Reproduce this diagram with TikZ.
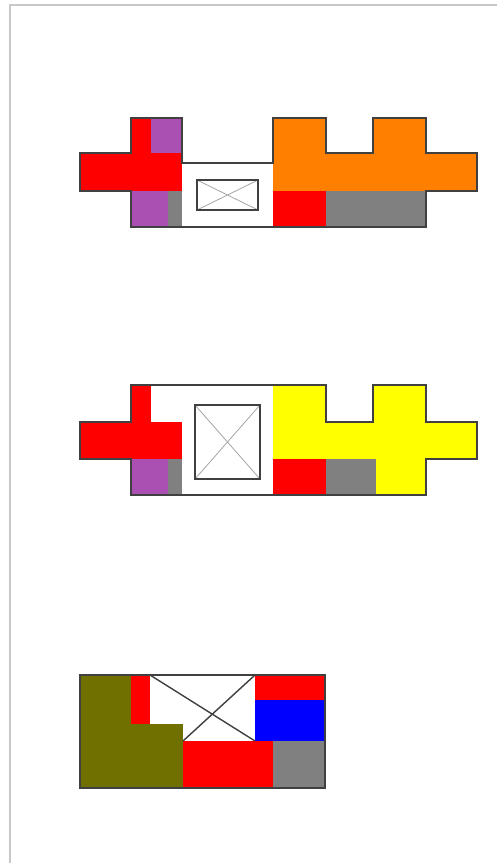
\documentclass[tikz,border=0pt]{standalone}
\definecolor{cred}{RGB}{255,0,0}
\definecolor{cpurple}{RGB}{170,80,178}
\definecolor{cgray}{RGB}{128,128,128}
\definecolor{corange}{RGB}{255,128,0}
\definecolor{cyellow}{RGB}{255,255,0}
\definecolor{colive}{RGB}{112,112,0}
\definecolor{cblue}{RGB}{0,0,255}
\definecolor{cline}{RGB}{64,64,64}
\definecolor{cframe}{RGB}{200,200,200}
\tikzset{
  outline/.style={draw=cline, line width=1.5pt, line join=miter},
  xline/.style={draw=cgray!70, line width=0.8pt},
  boxline/.style={draw=cline, line width=1.3pt},
}
\begin{document}
\begin{tikzpicture}[x=1pt,y=-1pt]
\useasboundingbox (0,0) rectangle (497,863);
\fill[white] (0,0) rectangle (497,863);
% frame
\draw[cframe, line width=2pt] (10,863) -- (10,5) -- (497,5);

% ---------- shape 1 ----------
\fill[cred] (80,153) rectangle (182,191);
\fill[cred] (131,118) rectangle (151,153);
\fill[cpurple] (151,118) rectangle (182,153);
\fill[cpurple] (131,191) rectangle (168,227);
\fill[cgray] (168,191) rectangle (182,227);
\fill[corange] (273,118) rectangle (326,153);
\fill[corange] (373,118) rectangle (426,153);
\fill[corange] (273,153) rectangle (477,191);
\fill[cred] (273,191) rectangle (326,227);
\fill[cgray] (326,191) rectangle (426,227);
\draw[outline] (80,153) -- (131,153) -- (131,118) -- (182,118) -- (182,163) -- (273,163)
  -- (273,118) -- (326,118) -- (326,153) -- (373,153) -- (373,118) -- (426,118)
  -- (426,153) -- (477,153) -- (477,191) -- (426,191) -- (426,227) -- (131,227)
  -- (131,191) -- (80,191) -- cycle;
\draw[xline] (197,180) -- (258,210) (258,180) -- (197,210);
\draw[boxline] (197,180) rectangle (258,210);

% ---------- shape 2 ----------
\fill[cred] (131,385) rectangle (151,422);
\fill[cred] (80,422) rectangle (182,459);
\fill[cpurple] (131,459) rectangle (168,495);
\fill[cgray] (168,459) rectangle (182,495);
\fill[cyellow] (273,385) rectangle (326,422);
\fill[cyellow] (373,385) rectangle (426,495);
\fill[cyellow] (273,422) rectangle (477,459);
\fill[cred] (273,459) rectangle (326,495);
\fill[cgray] (326,459) rectangle (376,495);
\fill[cyellow] (376,459) rectangle (426,495);
\draw[outline] (80,422) -- (131,422) -- (131,385) -- (326,385) -- (326,422) -- (373,422)
  -- (373,385) -- (426,385) -- (426,422) -- (477,422) -- (477,459) -- (426,459)
  -- (426,495) -- (131,495) -- (131,459) -- (80,459) -- cycle;
\draw[xline] (195,405) -- (260,479) (260,405) -- (195,479);
\draw[boxline] (195,405) rectangle (260,479);

% ---------- shape 3 ----------
\fill[colive] (80,675) rectangle (131,724);
\fill[colive] (80,724) rectangle (183,788);
\fill[cred] (131,675) rectangle (150,724);
\fill[cred] (255,675) rectangle (325,700);
\fill[cblue] (255,700) rectangle (325,741);
\fill[cred] (183,741) rectangle (273,788);
\fill[cgray] (273,741) rectangle (325,788);
\draw[cline, line width=1.4pt] (150,675) -- (255,741) (255,675) -- (183,741);
\draw[outline] (80,675) rectangle (325,788);
\end{tikzpicture}
\end{document}
